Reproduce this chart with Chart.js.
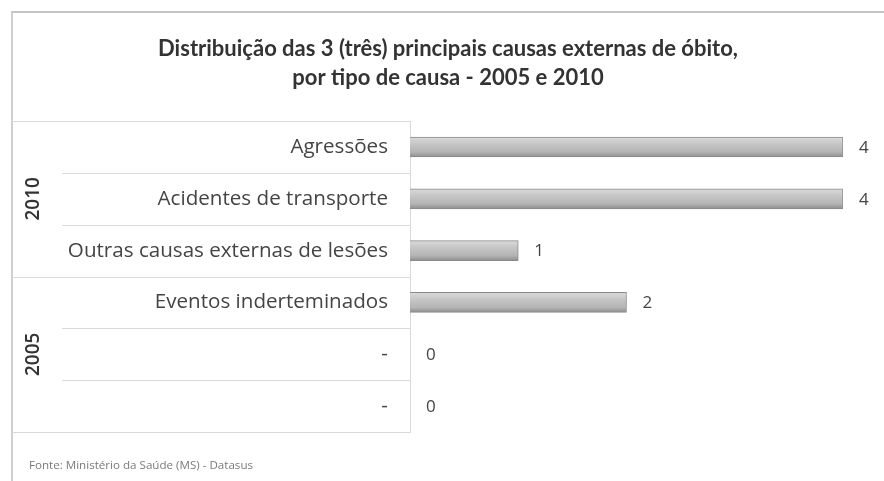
<!DOCTYPE html>
<html>
<head>
<meta charset="utf-8">
<script src="https://cdn.jsdelivr.net/npm/chart.js@4/dist/chart.umd.min.js"></script>
<style>
  html, body { margin:0; padding:0; background:#fff; width:884px; height:481px; overflow:hidden; }
  #frame { position:absolute; left:11px; top:11px; width:900px; height:500px; border-top:2px solid #c4c4c4; border-left:2px solid #cfcfcf; }
  #c { position:absolute; left:0; top:0; }
  #src { position:absolute; left:29px; top:457px; font-family:"Open Sans", sans-serif; font-size:11.6px; color:#7a7a7a; }
</style>
</head>
<body>
<div id="frame"></div>
<canvas id="c" width="884" height="481"></canvas>
<div id="src">Fonte: Ministério da Saúde (MS) - Datasus</div>
<script>
const titleLines = ["Distribuição das 3 (três) principais causas externas de óbito,", "por tipo de causa - 2005 e 2010"];
const categories = ["Agressões", "Acidentes de transporte", "Outras causas externas de lesões", "Eventos inderteminados", "-", "-"];
const values = [4, 4, 1, 2, 0, 0];
const years = ["2010", "2005"];
const groupSizes = [3, 3];

const gridColor = '#d9d9d9';

const structurePlugin = {
  id: 'structure',
  afterDraw(chart) {
    const ctx = chart.ctx;
    const ys = chart.scales.y;
    const area = chart.chartArea;
    const n = categories.length;
    const bound = i => i === 0 ? ys.top : (i === n ? ys.bottom : (ys.getPixelForValue(i - 1) + ys.getPixelForValue(i)) / 2);
    const groupEdges = [0];
    groupSizes.forEach(s => groupEdges.push(groupEdges[groupEdges.length - 1] + s));
    ctx.save();
    ctx.strokeStyle = gridColor;
    ctx.lineWidth = 1;
    for (let i = 0; i <= n; i++) {
      const y = Math.round(bound(i)) + 0.5;
      const x0 = groupEdges.includes(i) ? 12 : 62;
      ctx.beginPath();
      ctx.moveTo(x0, y);
      ctx.lineTo(area.left, y);
      ctx.stroke();
    }
    ctx.fillStyle = '#333';
    ctx.font = '600 19px "Open Sans", sans-serif';
    ctx.textAlign = 'center';
    ctx.textBaseline = 'middle';
    years.forEach((yr, g) => {
      const cy = (bound(groupEdges[g]) + bound(groupEdges[g + 1])) / 2;
      ctx.save();
      ctx.translate(34, cy);
      ctx.rotate(-Math.PI / 2);
      ctx.fillText(yr, 0, 0);
      ctx.restore();
    });
    const meta = chart.getDatasetMeta(0);
    ctx.fillStyle = '#444';
    ctx.font = '17px "Open Sans", sans-serif';
    ctx.textAlign = 'left';
    meta.data.forEach((el, i) => {
      ctx.fillText(String(values[i]), el.x + 16, el.y + 1);
    });
    ctx.restore();
  }
};

function barFill(context) {
  const chart = context.chart;
  const ys = chart.scales && chart.scales.y;
  if (!ys || context.dataIndex === undefined) return '#b5b5b5';
  const cy = ys.getPixelForValue(context.dataIndex);
  if (!isFinite(cy)) return '#b5b5b5';
  const g = chart.ctx.createLinearGradient(0, cy - 10, 0, cy + 10);
  g.addColorStop(0, '#dadada');
  g.addColorStop(0.35, '#c6c6c6');
  g.addColorStop(0.75, '#b4b4b4');
  g.addColorStop(1, '#8e8e8e');
  return g;
}

new Chart(document.getElementById('c'), {
  type: 'bar',
  data: {
    labels: categories,
    datasets: [{
      data: values,
      backgroundColor: barFill,
      borderColor: '#8a8a8a',
      borderWidth: 1,
      barThickness: 20
    }]
  },
  options: {
    indexAxis: 'y',
    responsive: false,
    animation: false,
    layout: { padding: { top: 34, left: 12, right: 0, bottom: 49 } },
    plugins: {
      legend: { display: false },
      tooltip: { enabled: false },
      title: {
        display: true,
        text: titleLines,
        color: '#333',
        font: { family: 'Lato', size: 22, weight: 'bold', lineHeight: 1.32 },
        padding: { top: 0, bottom: 29 }
      }
    },
    scales: {
      x: { display: false, min: 0, max: 4 },
      y: {
        afterFit(scale) { scale.width = 398; },
        grid: { display: false, drawTicks: false },
        border: { display: true, color: gridColor, width: 1 },
        ticks: { padding: 22, color: '#444', font: { family: 'Open Sans', size: 20.6 } }
      },
      yRight: {
        position: 'right',
        afterFit(scale) { scale.width = 41; },
        grid: { display: false, drawTicks: false },
        border: { display: false },
        ticks: { display: false }
      }
    }
  },
  plugins: [structurePlugin]
});
</script>
</body>
</html>
